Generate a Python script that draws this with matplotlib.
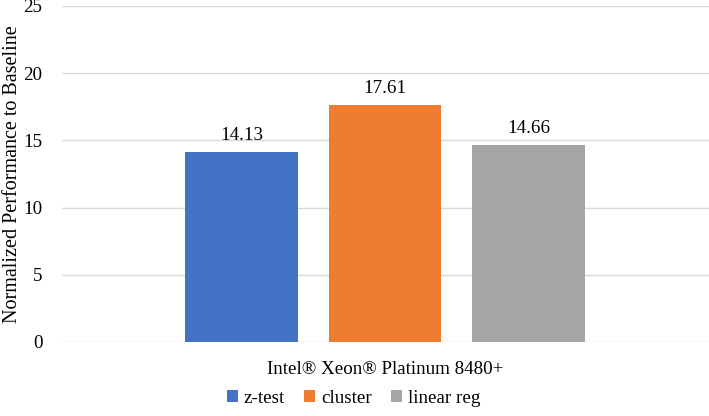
import numpy as np
import matplotlib.pyplot as plt

plt.rcParams['font.family'] = 'Liberation Serif'

series = ['z-test', 'cluster', 'linear reg']
values = [14.13, 17.61, 14.66]
colors = ['#4472c4', '#ed7d31', '#a5a5a5']
category = 'Intel® Xeon® Platinum 8480+'
yticks = [0, 5, 10, 15, 20, 25]

fig = plt.figure(figsize=(7.09, 4.16), dpi=100)
ax = fig.add_axes([0.0874, 0.178, 0.9126, 0.8077])

x = np.arange(len(series))
bars = ax.bar(x, values, width=0.787, color=colors, label=series, zorder=3)
for xi, v in zip(x, values):
    ax.text(xi, v + 0.6, f'{v:.2f}', ha='center', va='bottom', fontsize=13.7)

ax.set_xlim(-1.251, 3.258)
ax.set_ylim(0, 25)
ax.set_yticks(yticks)
ax.tick_params(axis='y', length=0, labelsize=13.7, pad=14)
ax.set_xticks([1])
ax.set_xticklabels([category])
ax.tick_params(axis='x', length=0, labelsize=13.7, pad=14)
ax.grid(axis='y', color='#d9d9d9', linewidth=1, zorder=0)
for s in ax.spines.values():
    s.set_visible(False)
ax.set_ylabel('Normalized Performance to Baseline', fontsize=14.5)
ax.yaxis.set_label_coords(-0.062, 0.5)

fig.legend(handles=bars, labels=series, loc='center', bbox_to_anchor=(0.4986, 0.043),
           ncol=3, frameon=False, fontsize=13.7, handlelength=0.6, handleheight=0.6,
           handletextpad=0.3, columnspacing=1.0)

fig.savefig('out.png', dpi=100)
